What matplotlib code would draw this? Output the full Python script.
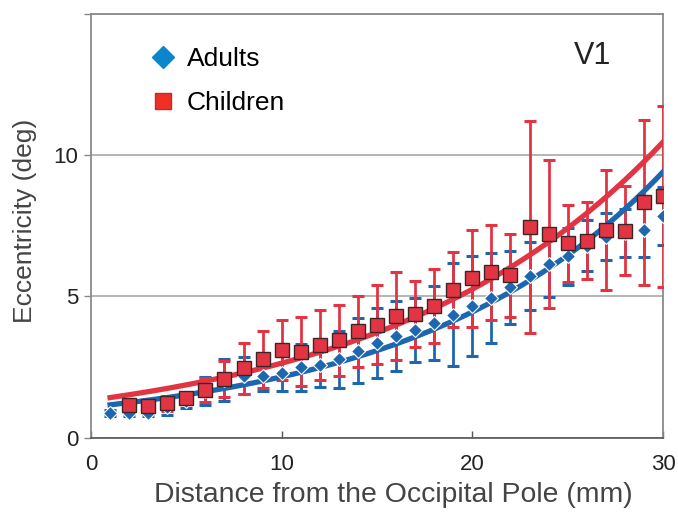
import numpy as np
import matplotlib
matplotlib.use("Agg")
import matplotlib.pyplot as plt
from matplotlib.lines import Line2D

plt.rcParams['font.family'] = ['Liberation Sans', 'DejaVu Sans']

# Distance from the occipital pole (mm) and mean eccentricity (deg) with error
distance_adults = list(range(1, 31))
ecc_adults = [0.88, 0.86, 0.88, 1.10, 1.30, 1.65, 2.05, 2.20, 2.18, 2.28,
              2.49, 2.57, 2.77, 3.07, 3.36, 3.60, 3.80, 4.06, 4.35, 4.65,
              4.94, 5.32, 5.73, 6.15, 6.42, 6.80, 7.12, 7.25, 7.35, 7.85]
err_adults = [0.10, 0.10, 0.10, 0.30, 0.25, 0.50, 0.75, 0.65, 0.52, 0.62,
              0.83, 0.77, 1.02, 1.15, 1.24, 1.23, 1.13, 1.30, 1.82, 1.77,
              1.60, 1.30, 1.21, 1.16, 1.02, 0.90, 0.82, 0.85, 0.95, 1.03]

distance_children = list(range(2, 31))
ecc_children = [1.15, 1.14, 1.22, 1.39, 1.69, 2.08, 2.45, 2.77, 3.10, 3.05,
                3.27, 3.45, 3.76, 4.00, 4.30, 4.37, 4.67, 5.24, 5.64, 5.85,
                5.75, 7.47, 7.20, 6.88, 6.97, 7.35, 7.33, 8.33, 8.55]
err_children = [0.10, 0.10, 0.26, 0.20, 0.44, 0.65, 0.90, 1.02, 1.07, 1.22,
                1.24, 1.25, 1.27, 1.39, 1.55, 1.16, 1.31, 1.33, 1.73, 1.67,
                1.47, 3.75, 2.62, 1.37, 1.36, 2.11, 1.58, 2.93, 3.21]

# Exponential fits: a * exp(b * d) + c
fit_adults = (0.92, 0.0769, 0.17)
fit_children = (1.325, 0.0689, 0.0)

BLUE = '#1d67b1'
RED = '#e33444'

fig = plt.figure(figsize=(6.78, 5.12), dpi=100)
ax = fig.add_axes([0.1342, 0.1451, 0.8437, 0.8276])

d = np.linspace(1, 30, 300)

# error bars
ax.errorbar(distance_adults, ecc_adults, yerr=err_adults, fmt='none',
            ecolor=BLUE, elinewidth=2.0, capsize=4, capthick=2.2, zorder=3)
ax.errorbar(distance_children, ecc_children, yerr=err_children, fmt='none',
            ecolor=RED, elinewidth=2.0, capsize=4, capthick=2.2, zorder=4)

# fitted curves
a, b, c = fit_adults
ax.plot(d, a * np.exp(b * d) + c, color=BLUE, lw=3.8, zorder=5)
a, b, c = fit_children
ax.plot(d, a * np.exp(b * d) + c, color=RED, lw=3.8, zorder=5)

# data points
ax.plot(distance_adults, ecc_adults, linestyle='none', marker='D', ms=7.5,
        mfc=BLUE, mec='white', mew=0.8, zorder=6)
ax.plot(distance_children, ecc_children, linestyle='none', marker='s', ms=9.5,
        mfc=RED, mec='#3b2626', mew=1.0, zorder=7)

ax.set_xlim(0, 30)
ax.set_ylim(0, 15)
ax.set_xticks([0, 10, 20, 30])
ax.set_yticks([0, 5, 10, 15])
ax.set_yticklabels(['0', '5', '10', ''])
ax.tick_params(axis='x', direction='in', length=5, width=1, color='#555555',
               labelsize=16, labelcolor='#222222', pad=12)
ax.tick_params(axis='y', direction='out', length=5, width=1, color='#888888',
               labelsize=16, labelcolor='#222222', pad=4)

ax.yaxis.grid(True, color='#a8a8a8', lw=1.2)
ax.set_axisbelow(True)
for side in ['left', 'top', 'right']:
    ax.spines[side].set_color('#8a8a8a')
    ax.spines[side].set_linewidth(1.3)
ax.spines['bottom'].set_color('#555555')
ax.spines['bottom'].set_linewidth(1.2)

ax.set_xlabel('Distance from the Occipital Pole (mm)', fontsize=20.4,
              color='#444444')
ax.xaxis.set_label_coords(0.528, -0.105)
ax.set_ylabel('Eccentricity (deg)', fontsize=19, color='#444444')
ax.yaxis.set_label_coords(-0.095, 0.512)

handles = [
    Line2D([], [], linestyle='none', marker='D', ms=11.5, mfc='#0a86cc',
           mec='#0a86cc', label='Adults'),
    Line2D([], [], linestyle='none', marker='s', ms=11.5, mfc='#ee3124',
           mec='#c8282a', label='Children'),
]
ax.legend(handles=handles, loc='upper left', bbox_to_anchor=(0.084, 0.946),
          frameon=False, fontsize=19, handlelength=1.0, handletextpad=0.4,
          labelspacing=0.75, borderaxespad=0)

ax.text(0.876, 0.9, 'V1', transform=ax.transAxes, ha='center', va='center',
        fontsize=22, color='#222222')

fig.savefig('out.png', dpi=100)
